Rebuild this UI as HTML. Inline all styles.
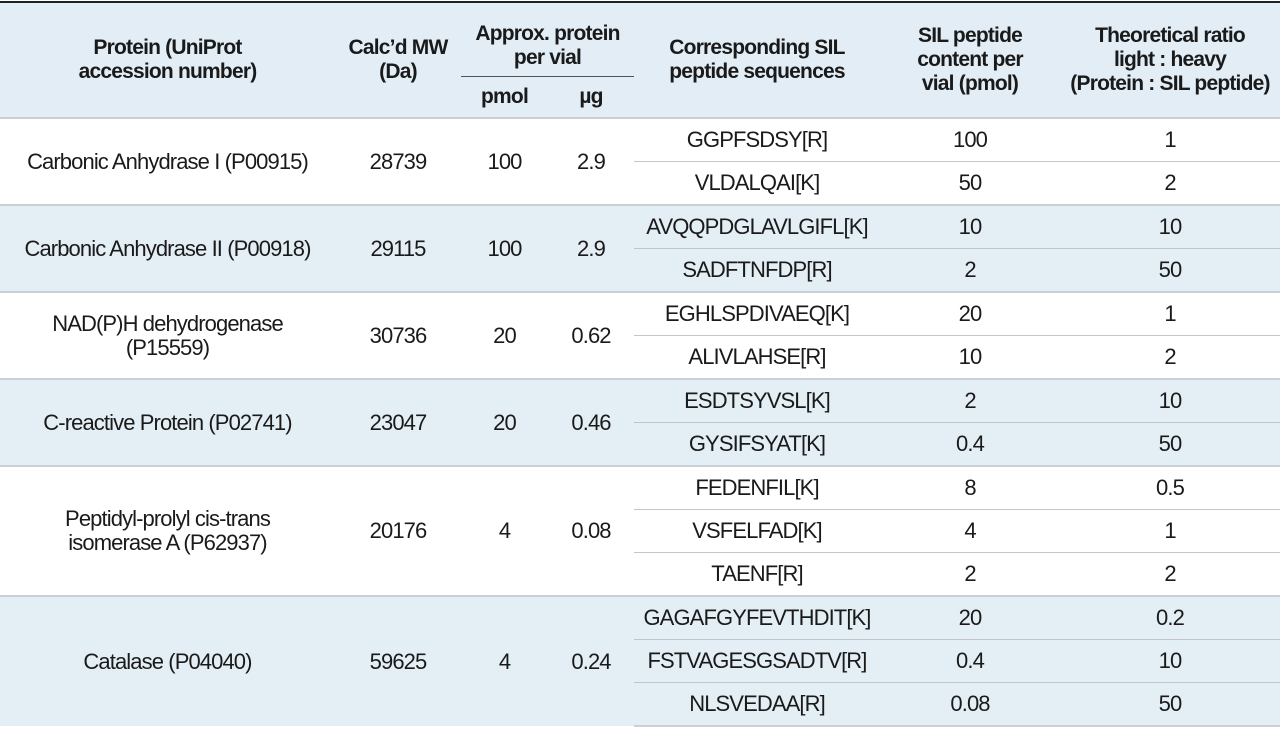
<!DOCTYPE html>
<html><head><meta charset="utf-8"><style>
html,body{margin:0;padding:0;width:1280px;height:733px;overflow:hidden;background:#fff}
table{position:absolute;left:0;top:1px;width:1280px;border-collapse:collapse;font-family:"Liberation Sans",sans-serif;color:#1a1a1a;table-layout:fixed;border-top:2px solid #222}
td,th{text-align:center;padding:0;font-size:22px;letter-spacing:-0.9px;line-height:24px}
th{font-weight:bold;font-size:21px;line-height:24px;background:#e2edf5;letter-spacing:-0.8px}
.g td{height:42px}
.b td{background:#e4eef5}
tr.first td{border-top:2px solid #c9d0d6}
tr.sub td.r{border-top:1px solid #c3c6c9}
.last td{border-bottom:2px solid #c9d0d6}
</style></head><body>
<table>
<colgroup><col style="width:335px"><col style="width:126px"><col style="width:87px"><col style="width:86px"><col style="width:246px"><col style="width:180px"><col style="width:220px"></colgroup>
<thead>
<tr style="height:74px"><th rowspan="2">Protein (UniProt<br>accession number)</th><th rowspan="2">Calc’d MW<br>(Da)</th><th colspan="2" style="border-bottom:1px solid #555;vertical-align:bottom;padding-bottom:6px">Approx. protein<br>per vial</th><th rowspan="2">Corresponding SIL<br>peptide sequences</th><th rowspan="2">SIL peptide<br>content per<br>vial (pmol)</th><th rowspan="2">Theoretical ratio<br>light : heavy<br>(Protein : SIL peptide)</th></tr>
<tr style="height:42px"><th>pmol</th><th>µg</th></tr>
</thead>
<tbody>
<tr class="g first"><td rowspan="2">Carbonic Anhydrase I (P00915)</td><td rowspan="2">28739</td><td rowspan="2">100</td><td rowspan="2">2.9</td><td class="r">GGPFSDSY[R]</td><td class="r">100</td><td class="r">1</td></tr>
<tr class="g sub"><td class="r">VLDALQAI[K]</td><td class="r">50</td><td class="r">2</td></tr>
<tr class="g b first"><td rowspan="2">Carbonic Anhydrase II (P00918)</td><td rowspan="2">29115</td><td rowspan="2">100</td><td rowspan="2">2.9</td><td class="r">AVQQPDGLAVLGIFL[K]</td><td class="r">10</td><td class="r">10</td></tr>
<tr class="g b sub"><td class="r">SADFTNFDP[R]</td><td class="r">2</td><td class="r">50</td></tr>
<tr class="g first"><td rowspan="2">NAD(P)H dehydrogenase<br>(P15559)</td><td rowspan="2">30736</td><td rowspan="2">20</td><td rowspan="2">0.62</td><td class="r">EGHLSPDIVAEQ[K]</td><td class="r">20</td><td class="r">1</td></tr>
<tr class="g sub"><td class="r">ALIVLAHSE[R]</td><td class="r">10</td><td class="r">2</td></tr>
<tr class="g b first"><td rowspan="2">C-reactive Protein (P02741)</td><td rowspan="2">23047</td><td rowspan="2">20</td><td rowspan="2">0.46</td><td class="r">ESDTSYVSL[K]</td><td class="r">2</td><td class="r">10</td></tr>
<tr class="g b sub"><td class="r">GYSIFSYAT[K]</td><td class="r">0.4</td><td class="r">50</td></tr>
<tr class="g first"><td rowspan="3">Peptidyl-prolyl cis-trans<br>isomerase A (P62937)</td><td rowspan="3">20176</td><td rowspan="3">4</td><td rowspan="3">0.08</td><td class="r">FEDENFIL[K]</td><td class="r">8</td><td class="r">0.5</td></tr>
<tr class="g sub"><td class="r">VSFELFAD[K]</td><td class="r">4</td><td class="r">1</td></tr>
<tr class="g sub"><td class="r">TAENF[R]</td><td class="r">2</td><td class="r">2</td></tr>
<tr class="g b first"><td rowspan="3">Catalase (P04040)</td><td rowspan="3">59625</td><td rowspan="3">4</td><td rowspan="3">0.24</td><td class="r">GAGAFGYFEVTHDIT[K]</td><td class="r">20</td><td class="r">0.2</td></tr>
<tr class="g b sub"><td class="r">FSTVAGESGSADTV[R]</td><td class="r">0.4</td><td class="r">10</td></tr>
<tr class="g b sub last"><td class="r">NLSVEDAA[R]</td><td class="r">0.08</td><td class="r">50</td></tr>
</tbody></table>
</body></html>
